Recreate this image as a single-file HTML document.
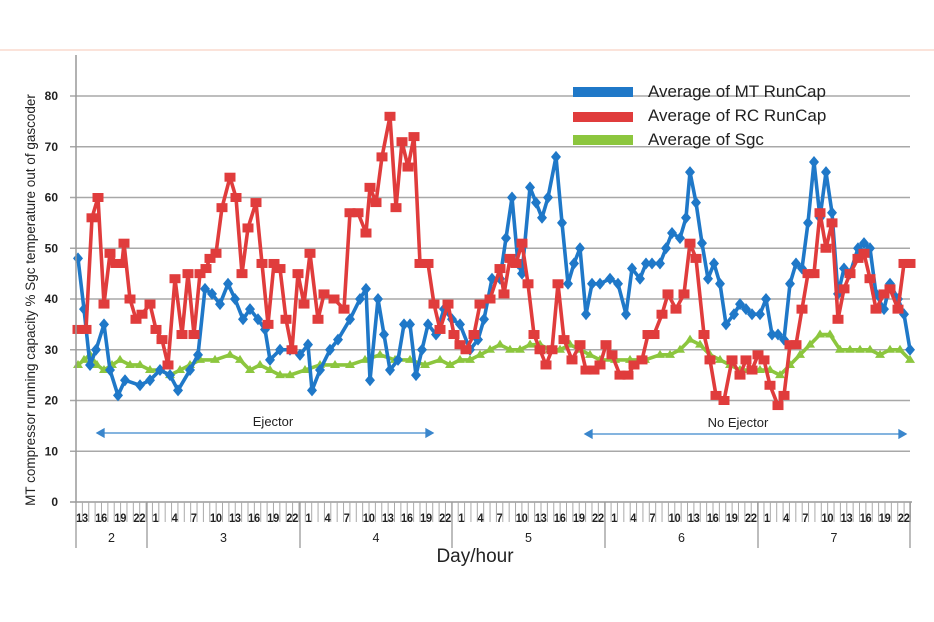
<!DOCTYPE html>
<html><head><meta charset="utf-8"><style>
html,body{margin:0;padding:0;background:#fff;}
svg{display:block;font-family:"Liberation Sans",sans-serif;}
</style></head><body>
<svg id="s" width="934" height="622" viewBox="0 0 934 622" xmlns="http://www.w3.org/2000/svg">
<rect width="934" height="622" fill="#fff"/>
<line x1="0" y1="50" x2="934" y2="50" stroke="#fbe3da" stroke-width="2"/>
<g id="grid"></g>
<g id="ser"></g>
<g id="ax"></g>
<text x="475" y="562" font-size="19" text-anchor="middle" fill="#222">Day/hour</text>
<text transform="translate(35,300) rotate(-90)" font-size="13.5" text-anchor="middle" fill="#222">MT compressor running capacity % Sgc temperature out of gascoder</text>
<rect x="573" y="87" width="60" height="10" fill="#1f78c8"/>
<rect x="573" y="112" width="60" height="10" fill="#e03c3c"/>
<rect x="573" y="135" width="60" height="10" fill="#8cc63e"/>
<text x="648" y="97" font-size="17" fill="#222">Average of MT RunCap</text>
<text x="648" y="121" font-size="17" fill="#222">Average of RC RunCap</text>
<text x="648" y="145" font-size="17" fill="#222">Average of Sgc</text>
<g stroke="#3a86cc" stroke-width="1.3" fill="#3a86cc">
<line x1="99" y1="433" x2="431" y2="433"/>
<path d="M97 433 l7 -4 v8z M433 433 l-7 -4 v8z"/>
<line x1="587" y1="434" x2="904" y2="434"/>
<path d="M585 434 l7 -4 v8z M906 434 l-7 -4 v8z"/>
</g>
<text x="273" y="426" font-size="13" text-anchor="middle" fill="#222">Ejector</text>
<text x="738" y="427" font-size="13" text-anchor="middle" fill="#222">No Ejector</text>
</svg>
<script>
const NS="http://www.w3.org/2000/svg";
function el(p,t,a,txt){const e=document.createElementNS(NS,t);for(const k in a)e.setAttribute(k,a[k]);if(txt!==undefined)e.textContent=txt;p.appendChild(e);return e;}
const Y=v=>502-v*5.075;
const g=document.getElementById('grid'),ax=document.getElementById('ax'),ser=document.getElementById('ser');
for(let v=0;v<=80;v+=10){
 if(v>0)el(g,'line',{x1:70,y1:Y(v),x2:910,y2:Y(v),stroke:'#a8a8a8','stroke-width':1.6});
 el(ax,'text',{x:58,y:Y(v)+4,'font-size':12,'font-weight':'bold','text-anchor':'end',fill:'#222'},v);
}
el(ax,'line',{x1:76,y1:55,x2:76,y2:502,stroke:'#999','stroke-width':1.5});
el(ax,'line',{x1:70,y1:502,x2:912,y2:502,stroke:'#999','stroke-width':1.5});
const w=6.37;
for(let i=0;i<=131;i++){const x=76+i*w;el(ax,'line',{x1:x,y1:502,x2:x,y2:522,stroke:'#aaa','stroke-width':1});}
const days=[[2,76,147],[3,147,300],[4,300,452],[5,452,605],[6,605,758],[7,758,910]];
days.forEach(d=>{el(ax,'line',{x1:d[1],y1:502,x2:d[1],y2:548,stroke:'#999','stroke-width':1.3});
 el(ax,'text',{x:(d[1]+d[2])/2,y:542,'font-size':12.5,'text-anchor':'middle',fill:'#222'},d[0]);});
el(ax,'line',{x1:910,y1:502,x2:910,y2:548,stroke:'#999','stroke-width':1.3});
for(let i=0;i<131;i++){const h=(i+13)%24;if([1,4,7,10,13,16,19,22].includes(h)){const x=76+(i+0.5)*w;
 el(ax,'text',{x:x+(h>=10?3:0),y:522,'font-size':11.5,'font-weight':'bold','text-anchor':'middle',fill:'#222','textLength':h>=10?12:6,'lengthAdjust':'spacingAndGlyphs'},h);}}
const blue=[[78,48],[84,38],[90,27],[96,30],[104,35],[110,26],[118,21],[125,24],[140,23],[150,24],[160,26],[170,25],[178,22],[190,26],[198,29],[205,42],[212,41],[220,39],[228,43],[235,40],[243,36],[250,38],[258,36],[265,34],[270,28],[280,30],[290,30],[300,29],[308,31],[312,22],[320,26],[330,30],[338,32],[350,36],[360,40],[366,42],[370,24],[378,40],[384,33],[390,26],[398,28],[404,35],[410,35],[416,25],[422,30],[428,35],[436,33],[444,38],[452,36],[460,35],[470,30],[478,32],[484,36],[492,44],[500,44],[506,52],[512,60],[518,47],[522,45],[530,62],[536,59],[542,56],[548,60],[556,68],[562,55],[568,43],[574,47],[580,50],[586,37],[592,43],[600,43],[610,44],[618,43],[626,37],[632,46],[640,44],[646,47],[652,47],[660,47],[666,50],[672,53],[680,52],[686,56],[690,65],[696,59],[702,51],[708,44],[714,47],[720,43],[726,35],[734,37],[740,39],[746,38],[752,37],[760,37],[766,40],[772,33],[778,33],[784,32],[790,43],[796,47],[802,46],[808,55],[814,67],[820,56],[826,65],[832,57],[838,41],[844,46],[850,45],[858,50],[864,51],[870,50],[876,41],[884,38],[890,43],[898,40],[904,37],[910,30]];
const red=[[78,34],[86,34],[92,56],[98,60],[104,39],[110,49],[116,47],[122,47],[124,51],[130,40],[136,36],[142,37],[150,39],[156,34],[162,32],[168,27],[175,44],[182,33],[188,45],[194,33],[200,45],[206,46],[210,48],[216,49],[222,58],[230,64],[236,60],[242,45],[248,54],[256,59],[262,47],[268,35],[274,47],[280,46],[286,36],[292,30],[298,45],[304,39],[310,49],[318,36],[324,41],[334,40],[344,38],[350,57],[358,57],[366,53],[370,62],[376,59],[382,68],[390,76],[396,58],[402,71],[408,66],[414,72],[420,47],[428,47],[434,39],[440,34],[448,39],[454,33],[460,31],[466,30],[474,33],[480,39],[490,40],[500,46],[504,41],[510,48],[516,47],[522,51],[528,43],[534,33],[540,30],[546,27],[552,30],[558,43],[564,32],[572,28],[580,31],[586,26],[594,26],[600,27],[606,31],[612,29],[620,25],[628,25],[634,27],[642,28],[648,33],[654,33],[662,37],[668,41],[676,38],[684,41],[690,51],[696,48],[704,33],[710,28],[716,21],[724,20],[732,28],[740,25],[746,28],[752,26],[758,29],[764,28],[770,23],[778,19],[784,21],[790,31],[796,31],[802,38],[808,45],[814,45],[820,57],[826,50],[832,55],[838,36],[844,42],[850,45],[858,48],[864,49],[870,44],[876,38],[884,41],[890,42],[898,38],[904,47],[910,47]];
const green=[[78,27],[84,28],[90,29],[97,27],[104,26],[112,27],[120,28],[130,27],[140,27],[150,26],[160,26],[170,25],[180,26],[190,27],[200,28],[215,28],[230,29],[240,28],[250,26],[260,27],[270,26],[280,25],[290,25],[305,26],[320,27],[335,27],[350,27],[365,28],[380,29],[395,28],[410,28],[425,27],[440,28],[450,27],[460,28],[470,28],[480,29],[490,30],[500,31],[510,30],[520,30],[530,31],[540,31],[550,30],[560,30],[570,31],[580,30],[590,29],[600,28],[615,28],[630,28],[645,28],[660,29],[670,29],[680,30],[690,32],[700,31],[710,29],[720,28],[730,27],[740,26],[750,26],[760,26],[770,26],[780,25],[790,27],[800,29],[810,31],[820,33],[830,33],[840,30],[850,30],[860,30],[870,30],[880,29],[890,30],[900,30],[910,28]];
function draw(d,col,mk){
 el(ser,'polyline',{points:d.map(p=>p[0]+','+Y(p[1])).join(' '),fill:'none',stroke:col,'stroke-width':3.6,'stroke-linejoin':'round'});
 d.forEach(p=>{const x=p[0],y=Y(p[1]);
  if(mk==='d')el(ser,'path',{d:`M${x} ${y-6}L${x+5} ${y}L${x} ${y+6}L${x-5} ${y}Z`,fill:col});
  else if(mk==='s')el(ser,'rect',{x:x-5.5,y:y-4.5,width:11,height:9,fill:col});
  else el(ser,'path',{d:`M${x} ${y-5}L${x+5} ${y+3}L${x-5} ${y+3}Z`,fill:col});});
}
draw(green,'#8cc63e','t');
draw(blue,'#1f78c8','d');
draw(red,'#e03c3c','s');
</script>
</body></html>
